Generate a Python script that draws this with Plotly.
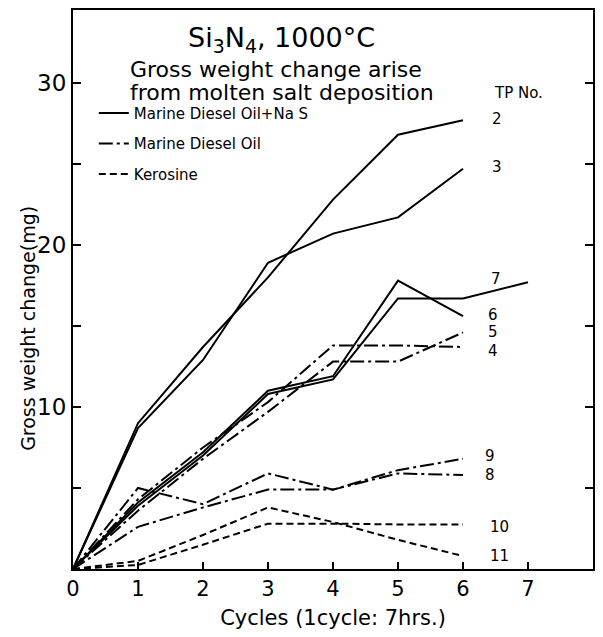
import plotly.graph_objects as go

cycles = [0, 1, 2, 3, 4, 5, 6]
cycles_tp7 = [0, 1, 2, 3, 4, 5, 6, 7]

# Marine Diesel Oil + Na2SO4 (solid)
tp2 = [0, 9.0, 13.7, 18.0, 22.8, 26.8, 27.7]
tp3 = [0, 8.7, 12.9, 18.9, 20.7, 21.7, 24.7]
tp6 = [0, 4.1, 7.2, 11.0, 11.9, 17.8, 15.6]
tp7 = [0, 3.9, 7.0, 10.8, 11.7, 16.7, 16.7, 17.7]
# Marine Diesel Oil (dash-dot)
tp4 = [0, 4.3, 7.5, 10.3, 13.8, 13.8, 13.7]
tp5 = [0, 3.6, 6.8, 9.7, 12.8, 12.8, 14.6]
tp8 = [0, 2.6, 3.8, 4.9, 4.9, 5.9, 5.8]
tp9 = [0, 5.0, 4.0, 5.9, 4.9, 6.1, 6.8]
# Kerosine (dashed)
tp10 = [0, 0.25, 1.5, 2.8, 2.8, 2.75, 2.75]
tp11 = [0, 0.5, 2.1, 3.8, 2.9, 1.8, 0.8]

legend_names = ["Marine Diesel Oil+Na S", "Marine Diesel Oil", "Kerosine"]
tp_labels = ["2", "3", "7", "6", "5", "4", "9", "8", "10", "11"]
label_pos = [(6.42, 27.8), (6.42, 24.8), (6.4, 17.9), (6.36, 15.7), (6.36, 14.6),
             (6.36, 13.45), (6.3, 7.0), (6.3, 5.8), (6.38, 2.6), (6.38, 0.8)]

x_ticks = [0, 1, 2, 3, 4, 5, 6, 7]
y_ticks = [0, 5, 10, 15, 20, 25, 30]
y_ticktext = ["", "", "10", "", "20", "", "30"]

FONT = "DejaVu Sans, sans-serif"
solid = "solid"
dashdot = "14px,4px,3px,4px"
dashed = "7px,4px"

series = [
    (cycles, tp2, solid, 0), (cycles, tp3, solid, None), (cycles, tp6, solid, None),
    (cycles_tp7, tp7, solid, None),
    (cycles, tp4, dashdot, 1), (cycles, tp5, dashdot, None), (cycles, tp8, dashdot, None),
    (cycles, tp9, dashdot, None),
    (cycles, tp10, dashed, 2), (cycles, tp11, dashed, None),
]

fig = go.Figure()
for xs, ys, dash, leg in series:
    fig.add_trace(go.Scatter(
        x=xs, y=ys, mode="lines",
        line=dict(color="black", width=2, dash=dash),
        name=legend_names[leg] if leg is not None else "",
        showlegend=leg is not None,
        legendgroup=str(leg) if leg is not None else None,
        hoverinfo="skip",
    ))

for lab, (lx, ly) in zip(tp_labels, label_pos):
    fig.add_annotation(x=lx, y=ly, text=lab, showarrow=False, xanchor="left",
                       yanchor="middle", font=dict(size=15, color="black", family=FONT))

fig.add_annotation(x=6.45, y=29.4, text="TP No.", showarrow=False, xanchor="left",
                   yanchor="middle", font=dict(size=15, color="black", family=FONT))

fig.add_annotation(xref="paper", yref="paper", x=0.40, y=0.948,
                   text="Si<sub>3</sub>N<sub>4</sub>, 1000°C", showarrow=False,
                   xanchor="center", yanchor="middle",
                   font=dict(size=27, color="black", family=FONT))
fig.add_annotation(xref="paper", yref="paper", x=0.105, y=0.893,
                   text="Gross weight change arise", showarrow=False,
                   xanchor="left", yanchor="middle",
                   font=dict(size=22, color="black", family=FONT))
fig.add_annotation(xref="paper", yref="paper", x=0.105, y=0.853,
                   text="from molten salt deposition", showarrow=False,
                   xanchor="left", yanchor="middle",
                   font=dict(size=22, color="black", family=FONT))
fig.add_annotation(xref="paper", yref="paper", x=-0.088, y=0.43,
                   text="Gross weight change(mg)", showarrow=False, textangle=-90,
                   xanchor="center", yanchor="middle",
                   font=dict(size=19, color="black", family=FONT))

fig.update_layout(
    width=603, height=637,
    margin=dict(l=73, r=8, t=10, b=68),
    paper_bgcolor="white", plot_bgcolor="white",
    font=dict(family=FONT, color="black"),
    showlegend=True,
    legend=dict(x=0.04, y=0.845, xanchor="left", yanchor="top",
                bgcolor="rgba(0,0,0,0)", font=dict(size=15, family=FONT),
                tracegroupgap=8, itemwidth=30),
    xaxis=dict(range=[0, 8], tickvals=x_ticks, ticktext=[str(v) for v in x_ticks],
               ticks="inside", ticklen=7, tickwidth=2, tickcolor="black",
               showline=True, linecolor="black", linewidth=2, mirror=True,
               showgrid=False, zeroline=False, tickfont=dict(size=21),
               title=dict(text="Cycles (1cycle: 7hrs.)", font=dict(size=21), standoff=10)),
    yaxis=dict(range=[0, 34.5], tickvals=y_ticks, ticktext=y_ticktext,
               ticks="inside", ticklen=8, tickwidth=2, tickcolor="black",
               showline=True, linecolor="black", linewidth=2, mirror="ticks",
               showgrid=False, zeroline=False, tickfont=dict(size=23)),
)

fig.write_html("out.html")
